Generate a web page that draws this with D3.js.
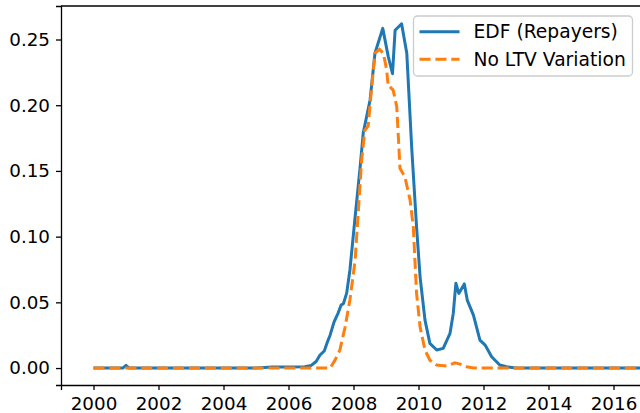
<!DOCTYPE html>
<html>
<head>
<meta charset="utf-8">
<script src="https://cdn.jsdelivr.net/npm/d3@7"></script>
<style>
  body { margin: 0; background: #fff; }
  svg { display: block; font-family: "DejaVu Sans", sans-serif; }
</style>
</head>
<body>
<svg id="chart" width="640" height="413"></svg>
<script>
// Data (decimal years, value)
var edfYears = [2000.0, 2000.9, 2001.0, 2001.1, 2005.0, 2005.5, 2006.0, 2006.5, 2006.7, 2006.85,
  2006.97, 2007.1, 2007.2, 2007.28, 2007.4, 2007.53, 2007.62, 2007.69, 2007.79, 2007.89,
  2008.05, 2008.2, 2008.3, 2008.51, 2008.66, 2008.9, 2009.07, 2009.15, 2009.2, 2009.28,
  2009.48, 2009.64, 2009.79, 2009.94, 2010.05, 2010.2, 2010.35, 2010.56, 2010.76, 2010.97,
  2011.07, 2011.15, 2011.24, 2011.41, 2011.5, 2011.69, 2011.89, 2012.05, 2012.25, 2012.5,
  2012.71, 2013.0, 2017.0];
var edfValues = [0, 0, 0.002, 0, 0, 0.0008, 0.0008, 0.001, 0.002, 0.005,
  0.0099, 0.013, 0.02, 0.025, 0.035, 0.042, 0.048, 0.049, 0.057, 0.0746,
  0.115, 0.152, 0.179, 0.204, 0.2395, 0.2585, 0.237, 0.229, 0.224, 0.257,
  0.262, 0.2395, 0.168, 0.1075, 0.069, 0.0365, 0.0188, 0.0137, 0.015, 0.0264,
  0.0416, 0.0645, 0.0568, 0.064, 0.0517, 0.0403, 0.0213, 0.0175, 0.0086, 0.0023,
  0.001, 0, 0];

var noLtvYears = [2000.0, 2007.28, 2007.43, 2007.58, 2007.74, 2007.89, 2008.05, 2008.15, 2008.25, 2008.35,
  2008.45, 2008.56, 2008.66, 2008.8, 2008.92, 2009.02, 2009.07, 2009.12, 2009.22, 2009.33,
  2009.38, 2009.43, 2009.58, 2009.74, 2009.84, 2009.89, 2009.94, 2010.05, 2010.2, 2010.35,
  2010.56, 2010.87, 2011.12, 2011.28, 2011.48, 2011.7, 2017.0];
var noLtvValues = [0, 0, 0.006, 0.0137, 0.031, 0.052, 0.082, 0.12, 0.158, 0.181,
  0.184, 0.214, 0.2395, 0.2425, 0.2395, 0.227, 0.214, 0.214, 0.2115, 0.199,
  0.176, 0.152, 0.1456, 0.128, 0.1075, 0.082, 0.057, 0.031, 0.0137, 0.006,
  0.0023, 0.0015, 0.004, 0.003, 0.001, 0, 0];

var xTicks = [2000, 2002, 2004, 2006, 2008, 2010, 2012, 2014, 2016];
var yTicks = [0, 0.05, 0.10, 0.15, 0.20, 0.25];

var seriesNames = ['EDF (Repayers)', 'No LTV Variation'];
var seriesColors = ['#1f77b4', '#ff7f0e'];

var svg = d3.select('#chart');

var x = d3.scaleLinear().domain([1999, 2017]).range([61, 646]);
var y = d3.scaleLinear().domain([-0.0129, 0.2755]).range([385, 6]);

var plot = svg.append('g');

// Series
var line = d3.line()
    .x(function(d) { return x(d[0]); })
    .y(function(d) { return y(d[1]); });

var edf = d3.zip(edfYears, edfValues);
var noLtv = d3.zip(noLtvYears, noLtvValues);

plot.append('path')
    .attr('d', line(edf))
    .attr('fill', 'none')
    .attr('stroke', seriesColors[0])
    .attr('stroke-width', 3)
    .attr('stroke-linejoin', 'round');

plot.append('path')
    .attr('d', line(noLtv))
    .attr('fill', 'none')
    .attr('stroke', seriesColors[1])
    .attr('stroke-width', 3)
    .attr('stroke-dasharray', '11.1,4.8');

// Axes
var xAxis = svg.append('g')
    .attr('transform', 'translate(0,385)')
    .call(d3.axisBottom(x).tickValues(xTicks).tickFormat(d3.format('d')).tickSize(5).tickPadding(7));
var yAxis = svg.append('g')
    .attr('transform', 'translate(61,0)')
    .call(d3.axisLeft(y).tickValues(yTicks).tickFormat(d3.format('.2f')).tickSize(5).tickPadding(6));

[xAxis, yAxis].forEach(function(a) {
  a.select('.domain').attr('stroke', '#000').attr('stroke-width', 1.3);
  a.selectAll('.tick line').attr('stroke', '#000').attr('stroke-width', 1.3);
  a.selectAll('.tick text')
      .attr('font-family', '"DejaVu Sans", sans-serif')
      .attr('font-size', 18.3)
      .attr('fill', '#000');
});

// Top spine (right spine falls outside the picture)
svg.append('line')
    .attr('x1', x(1999)).attr('x2', x(2017))
    .attr('y1', y(0.2755)).attr('y2', y(0.2755))
    .attr('stroke', '#000').attr('stroke-width', 1.3);

// Legend
var legend = svg.append('g').attr('transform', 'translate(413.5,16)');
legend.append('rect')
    .attr('width', 219).attr('height', 60)
    .attr('rx', 4)
    .attr('fill', '#fff').attr('fill-opacity', 0.8)
    .attr('stroke', '#ccc').attr('stroke-width', 1.3);

seriesNames.forEach(function(name, i) {
  var row = legend.append('g').attr('transform', 'translate(0,' + (15.7 + i * 27.6) + ')');
  row.append('line')
      .attr('x1', 6).attr('x2', 46)
      .attr('stroke', seriesColors[i])
      .attr('stroke-width', 3)
      .attr('stroke-dasharray', i === 1 ? '11.1,4.8' : null);
  row.append('text')
      .attr('x', 60).attr('y', 6.7)
      .attr('font-size', 18.7)
      .attr('fill', '#000')
      .text(name);
});
</script>
</body>
</html>
